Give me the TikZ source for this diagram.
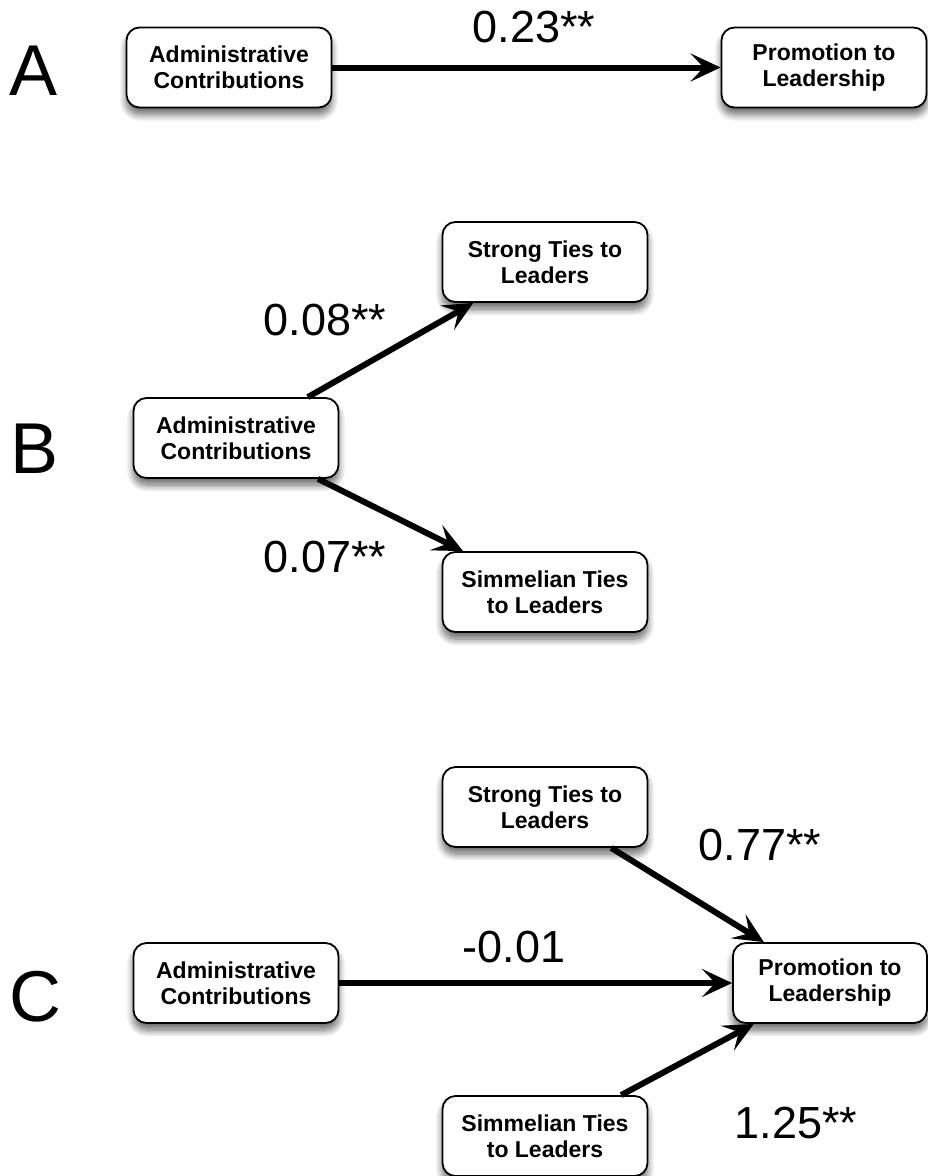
\documentclass[tikz,border=0pt]{standalone}
\usepackage{fontspec}
\setmainfont{Liberation Sans}
\usetikzlibrary{arrows.meta,shadows.blur}
\tikzset{
  box/.style={draw=black, line width=1.8pt, rounded corners=13pt, fill=white,
    minimum width=205pt, minimum height=80pt, align=center, inner sep=0pt,
    font=\fontsize{23}{26}\selectfont\bfseries,
    blur shadow={shadow xshift=0pt, shadow yshift=-7pt, shadow blur radius=7pt,
      shadow blur steps=12, shadow opacity=60}},
  arr/.style={line width=6pt, -{Stealth[length=30pt,width=28pt,inset=13pt]}},
  lab/.style={anchor=base, inner sep=0pt, font=\fontsize{45}{52}\selectfont},
  panel/.style={anchor=base, inner sep=0pt, font=\fontsize{72}{80}\selectfont},
}
\begin{document}
\begin{tikzpicture}[x=1pt,y=-1pt]
\useasboundingbox (0,0) rectangle (927,1176);
% Panel A
\node[panel] (pA) at (34,95) {A};
\node[box] (Aadm) at (229,67.5) {Administrative\\Contributions};
\node[box] (Apro) at (824,67.5) {Promotion to\\Leadership};
\draw[arr] (Aadm) -- (Apro);
\node[lab] (lA) at (534,42) {0.23**};
% Panel B
\node[panel] (pB) at (35,473) {B};
\node[box] (Bstr) at (545,262) {Strong Ties to\\Leaders};
\node[box] (Badm) at (236,438) {Administrative\\Contributions};
\node[box] (Bsim) at (545,592) {Simmelian Ties\\to Leaders};
\draw[arr] (Badm) -- (Bstr);
\draw[arr] (Badm) -- (Bsim);
\node[lab] (lB1) at (325,335) {0.08**};
\node[lab] (lB2) at (325,572) {0.07**};
% Panel C
\node[panel] (pC) at (35,1021) {C};
\node[box] (Cstr) at (545,807) {Strong Ties to\\Leaders};
\node[box] (Cadm) at (236,983) {Administrative\\Contributions};
\node[box, minimum width=194pt] (Cpro) at (830,983) {Promotion to\\Leadership};
\node[box] (Csim) at (545,1136) {Simmelian Ties\\to Leaders};
\draw[arr] (Cstr) -- (Cpro);
\draw[arr] (Cadm) -- (Cpro);
\draw[arr] (Csim) -- (Cpro);
\node[lab] (lC1) at (760,860) {0.77**};
\node[lab] (lC2) at (514,962) {-0.01};
\node[lab] (lC3) at (796,1138) {1.25**};
\end{tikzpicture}
\end{document}
